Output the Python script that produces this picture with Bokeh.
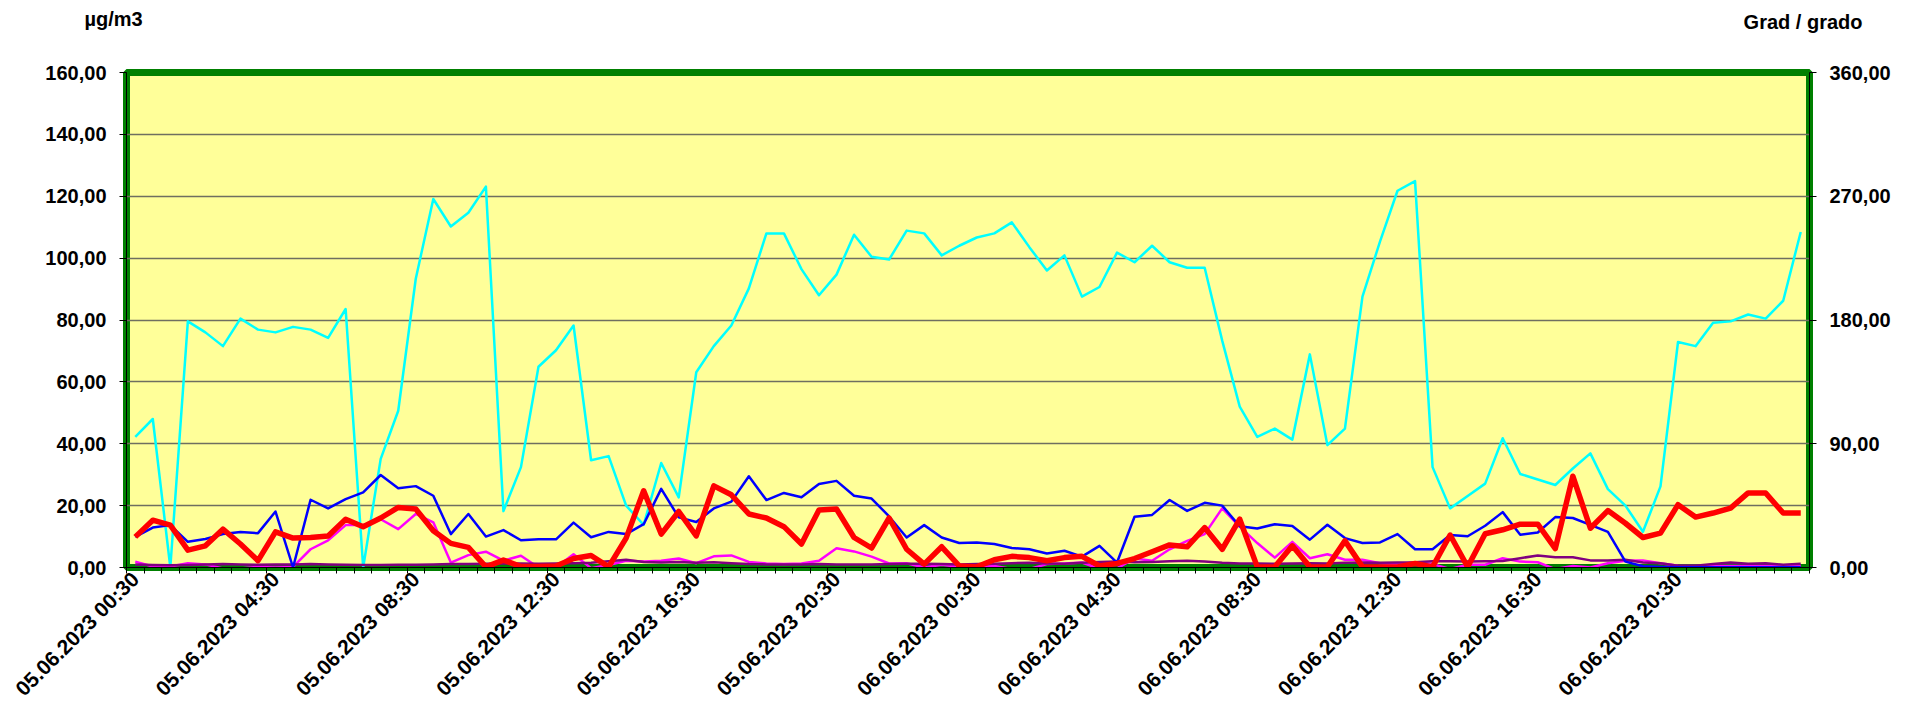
import math
from bokeh.plotting import figure
from bokeh.models import Range1d, LinearAxis, FixedTicker, Label
from bokeh.embed import file_html
from bokeh.resources import INLINE

# ---- data (half-hourly, 05.06.2023 00:30 .. 07.06.2023 00:00) ----
tick_index = [0, 8, 16, 24, 32, 40, 48, 56, 64, 72, 80, 88]
tick_labels = ["05.06.2023 00:30", "05.06.2023 04:30", "05.06.2023 08:30",
               "05.06.2023 12:30", "05.06.2023 16:30", "05.06.2023 20:30",
               "06.06.2023 00:30", "06.06.2023 04:30", "06.06.2023 08:30",
               "06.06.2023 12:30", "06.06.2023 16:30", "06.06.2023 20:30"]

left_ticks = [0, 20, 40, 60, 80, 100, 120, 140, 160]
left_labels = ["0,00", "20,00", "40,00", "60,00", "80,00", "100,00", "120,00", "140,00", "160,00"]
right_ticks = [0, 90, 180, 270, 360]
right_labels = ["0,00", "90,00", "180,00", "270,00", "360,00"]

# wind direction (Grad / grado, right axis)
cyan = [95, 108, 0, 179, 171, 161, 181, 173, 171, 175, 173, 167, 188,
        0, 79, 114, 210, 268, 248, 258, 277,
        41, 73, 146, 158, 176, 78, 81, 45, 31, 76,
        51, 142, 161, 176, 203, 243, 243, 217, 198, 213,
        242, 226, 224, 245, 243, 227, 234, 240, 243, 251,
        233, 216, 227, 197, 204, 229, 222, 234, 222, 218,
        218, 165, 117, 95, 101, 93, 155, 89, 101, 197,
        237, 274, 281, 73, 43, 52, 61, 94, 68, 64,
        60, 72, 83, 57, 45, 26, 59, 164, 161, 178,
        179, 184, 181, 194, 244]

# µg/m3 series (left axis)
blue = [9.9, 12.9, 13.7, 8.3, 9.2, 10.8, 11.5, 11.1, 18.1, 0.0,
        21.9, 19.1, 22.1, 24.3, 29.9, 25.6, 26.3, 23.2, 10.8, 17.3,
        10.0, 12.1, 8.8, 9.1, 9.1, 14.5, 9.8, 11.5, 10.8, 14.0,
        25.4, 16.2, 14.7, 19.1, 21.3, 29.5, 21.8, 24.1, 22.7, 27.0,
        28.0, 23.2, 22.3, 16.5, 9.7, 13.7, 9.7, 7.9, 8.1, 7.6,
        6.3, 5.9, 4.5, 5.4, 3.5, 7.0, 1.6, 16.4, 17.0, 21.8,
        18.3, 20.9, 20.0, 13.3, 12.6, 14.0, 13.4, 9.0, 13.8, 9.5,
        7.9, 8.1, 10.8, 5.9, 5.9, 10.5, 10.1, 13.5, 17.9, 10.6,
        11.3, 16.3, 16.0, 13.8, 11.5, 1.9, 0.4, 0.2, 0.1, 0.1,
        0.1, 0.1, 0.1, 0.1, 0.1, 0.1]

red = [9.9, 15.3, 13.7, 5.6, 7.0, 12.4, 7.6, 2.2, 11.5, 9.5,
       9.7, 10.2, 15.6, 13.2, 16.0, 19.4, 18.9, 11.9, 7.8, 6.5,
       0.2, 2.4, 0.3, 0.3, 0.5, 2.9, 3.9, 0.2, 9.5, 24.8,
       10.8, 18.1, 10.2, 26.4, 23.5, 17.3, 16.0, 13.2, 7.6, 18.6,
       18.9, 9.7, 6.3, 16.0, 5.9, 1.1, 6.7, 0.5, 0.2, 2.5,
       3.6, 3.2, 2.2, 3.2, 3.6, 0.5, 1.3, 2.9, 5.1, 7.3,
       6.7, 12.9, 5.9, 15.6, 0.2, 0.2, 7.0, 0.2, 0.2, 8.6,
       0.2, 0.2, 0.2, 1.3, 0.2, 10.5, 0.2, 10.9, 12.2, 14.0,
       14.0, 6.1, 29.5, 12.7, 18.4, 14.3, 9.7, 11.1, 20.3, 16.3,
       17.6, 19.2, 24.1, 24.1, 17.6, 17.6]

magenta = [1.9, 0.3, 0.3, 1.4, 1.0, -0.3, -0.3, 0.2, 0.0, 0.2,
           5.9, 8.8, 13.7, 13.7, 15.6, 12.4, 17.3, 14.6, 1.6, 4.0,
           5.1, 2.2, 3.8, 0.0, 0.0, 4.3, -0.2, 0.8, 2.2, 1.9,
           2.2, 2.9, 1.4, 3.6, 3.9, 1.8, 1.3, 1.1, 1.3, 2.2,
           6.2, 5.2, 3.5, 1.3, 1.4, 0.0, 0.9, 0.2, 0.0, 0.5,
           -0.5, -0.5, 1.1, 1.3, 1.6, -0.4, -0.3, 2.9, 2.2, 5.9,
           8.6, 10.8, 19.1, 13.2, 7.9, 3.2, 8.3, 3.0, 4.3, 2.5,
           2.5, 1.4, 1.1, 1.6, 1.1, -0.5, 0.9, 0.9, 3.0, 1.9,
           1.7, -0.5, 0.5, 0.0, 1.4, 2.2, 2.3, 1.4, 0.6, 0.5,
           0.5, 0.5, 0.5, 0.5, 0.4, 0.4]

purple = [1.0, 0.8, 0.7, 0.8, 1.0, 1.1, 1.0, 0.9, 1.0, 1.0,
          1.1, 1.0, 0.9, 0.8, 0.8, 0.9, 0.9, 1.0, 1.1, 1.1,
          1.2, 1.3, 1.3, 1.2, 1.3, 1.4, 1.5, 2.0,
          2.5, 1.8, 1.6, 1.8, 1.5, 1.7, 1.4, 1.1, 1.0, 1.0, 1.0, 1.1,
          1.0, 1.0, 1.0, 1.1, 1.2, 1.2, 1.1, 1.0, 1.1, 1.2,
          1.4, 1.5, 1.3, 1.2, 1.5, 1.8, 1.9, 1.7, 1.8, 2.0,
          2.2, 1.9, 1.5, 1.3, 1.3, 1.2, 1.3, 1.4, 1.3, 1.5,
          1.6, 1.5, 1.6, 1.7, 2.0, 2.0,
          1.9, 2.0, 2.1, 3.0, 3.9, 3.3, 3.3, 2.3, 2.3, 2.5,
          1.6, 1.4, 0.6, 0.6, 1.1, 1.6, 1.2, 1.4, 0.9, 1.2]

FONT = "Liberation Sans"

p = figure(width=1919, height=714, output_backend="svg", toolbar_location=None,
           x_range=Range1d(-0.5, 95.5), y_range=Range1d(0, 160),
           min_border_left=126, min_border_right=110, min_border_top=72,
           min_border_bottom=147)
p.extra_y_ranges = {"deg": Range1d(0, 360)}

p.background_fill_color = "#FFFF99"
p.border_fill_color = "white"
p.outline_line_color = "#008000"
p.outline_line_width = 7

# grid
p.xgrid.visible = False
p.ygrid.grid_line_color = "#6f6f60"
p.ygrid.grid_line_width = 1.5

def style_y(ax, ticks, labels):
    ax.ticker = FixedTicker(ticks=ticks, minor_ticks=[])
    ax.major_label_overrides = {t: s for t, s in zip(ticks, labels)}
    ax.major_tick_in = 0
    ax.major_tick_out = 7
    ax.minor_tick_line_color = None
    ax.axis_line_color = "black"
    ax.major_label_standoff = 13
    ax.major_label_text_font = FONT
    ax.major_label_text_font_style = "bold"
    ax.major_label_text_font_size = "20px"
    ax.major_label_text_color = "black"

style_y(p.yaxis[0], left_ticks, left_labels)
rax = LinearAxis(y_range_name="deg")
style_y(rax, right_ticks, right_labels)
p.add_layout(rax, "right")

# x axis
xax = p.xaxis[0]
xax.ticker = FixedTicker(ticks=tick_index, minor_ticks=[i + 0.5 for i in range(-1, 96)])
xax.major_label_overrides = {t: s for t, s in zip(tick_index, tick_labels)}
xax.major_label_orientation = math.pi / 4
xax.major_tick_line_color = None
xax.major_tick_out = 0
xax.major_tick_in = 0
xax.minor_tick_out = 6
xax.minor_tick_in = 0
xax.minor_tick_line_color = "black"
xax.axis_line_color = "black"
xax.major_label_standoff = 2
xax.major_label_text_font = FONT
xax.major_label_text_font_style = "bold"
xax.major_label_text_font_size = "21px"
xax.major_label_text_color = "black"

# series
p.line(list(range(len(cyan))), cyan, y_range_name="deg", line_color="#00FFFF", line_width=2.5, line_join="round")
p.line(list(range(len(magenta))), magenta, line_color="#FF00FF", line_width=2.5, line_join="round")
p.line(list(range(len(purple))), purple, line_color="#800080", line_width=2.5, line_join="round")
p.line(list(range(len(blue))), blue, line_color="#0000FF", line_width=2.5, line_join="round")
p.line(list(range(len(red))), red, line_color="#FF0000", line_width=5.5, line_join="round")

# axis titles (in the top side panel, positioned in canvas pixels)
p.add_layout(Label(x=84, y=18, x_units="canvas", y_units="canvas", text="µg/m3",
                   text_font=FONT, text_font_style="bold", text_font_size="20px",
                   text_color="black", text_baseline="alphabetic"), "above")
p.add_layout(Label(x=1862, y=21, x_units="canvas", y_units="canvas", text="Grad / grado",
                   text_font=FONT, text_font_style="bold", text_font_size="20px",
                   text_color="black", text_baseline="alphabetic", text_align="right"), "above")

open("out.html", "w").write(file_html(p, INLINE))
